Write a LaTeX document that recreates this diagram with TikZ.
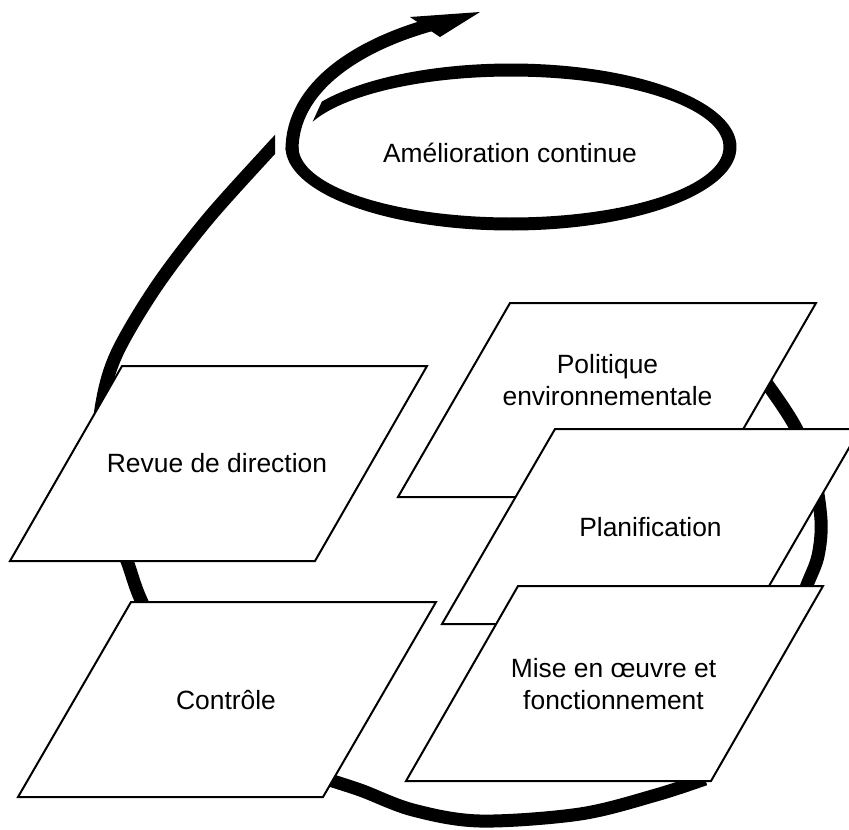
\documentclass[tikz,border=0pt]{standalone}
\usepackage{fontspec}
\setmainfont{Liberation Sans}
\begin{document}
\begin{tikzpicture}[x=0.75pt,y=-0.75pt,
  box/.style={draw=black, fill=white, line width=1.5pt, line join=miter},
  lbl/.style={font=\fontsize{19.8pt}{24.2pt}\selectfont, inner sep=0pt, align=center},
  ring/.style={draw=black, line width=9.75pt, line cap=butt}]
\clip (0,0) rectangle (849,829);
% large cycle ring (behind the boxes)
\begin{scope}
\clip (0,0) -- (275,0) -- (275,300) -- (849,300) -- (849,829) -- (0,829) -- cycle;
\draw[ring] plot[smooth, tension=0.55] coordinates {(285,134) (268,152) (207,220) (156,287) (117,353) (102,403) (98,460) (108,515) (127,561) (141,600) (175,668) (240,735) (300,770) (336,782) (363,791) (413,810) (480,821) (580,814) (656,795) (705,779)};
\draw[ring] plot[smooth, tension=0.55] coordinates {(742,352) (770,388) (796,428) (813,470) (821,520) (818,556) (807,585) (797,612)};
\end{scope}
% continual improvement loop
\fill[black] plot[domain=-147:180, samples=160, variable=\t] ({511+225.5*cos(\t)},{147+83.5*sin(\t)})
  -- plot[domain=180:-159, samples=160, variable=\t] ({511+212.5*cos(\t)},{147+70.5*sin(\t)}) -- cycle;
\draw[ring] (292,150) .. controls (292,87) and (357.5,45.4) .. (430,25);
\fill[black] (410,17) -- (480,12) -- (440,37) -- cycle;
% boxes
\draw[box] (122,366) -- (427,366) -- (315,561) -- (10,561) -- cycle;
\node[lbl, anchor=base] (rev) at (217,472.7) {Revue de direction};
\draw[box] (131,602) -- (436,602) -- (323,797) -- (18,797) -- cycle;
\node[lbl, anchor=base] (con) at (226,709) {Contrôle};
\draw[box] (510,303) -- (816,303) -- (704,497) -- (398,497) -- cycle;
\node[lbl, anchor=north] (pol) at (607.5,353.8) {Politique\\environnementale};
\draw[box] (555,429) -- (860,429) -- (747,624) -- (442,624) -- cycle;
\node[lbl, anchor=base] (pla) at (650.5,536) {Planification};
\draw[box] (518,586) -- (823,586) -- (711,781) -- (406,781) -- cycle;
\node[lbl, anchor=north] (mis) at (613.5,657.8) {Mise en œuvre et\\fonctionnement};
\node[lbl, anchor=base] (ame) at (510,162) {Amélioration continue};
\end{tikzpicture}
\end{document}
